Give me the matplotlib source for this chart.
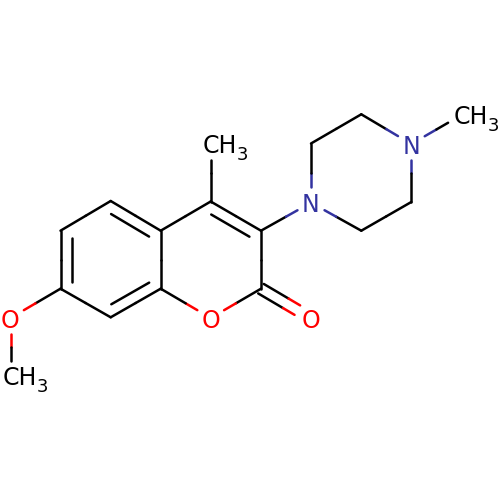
import numpy as np
import matplotlib
matplotlib.use('Agg')
import matplotlib.pyplot as plt

# Atoms, in picture pixels
elements = ['C', 'C', 'C', 'C', 'C', 'C', 'C', 'C', 'C', 'O', 'O', 'N', 'C', 'C', 'N', 'C', 'C', 'C', 'C', 'O', 'C']
atom_x = [110.7, 60.5, 60.5, 110.7, 160.7, 160.7, 210.7, 261, 261, 210.7, 310.7,
          311, 311, 361.3, 411.3, 411.3, 361.3, 461.5, 210.7, 10.5, 10.5]
atom_y = [201, 230.7, 288.7, 317.3, 288.7, 230.7, 201.5, 230.7, 288.7, 318, 318,
          202.7, 143.5, 114.3, 144, 202, 230.7, 115, 144, 318, 376]

single_bonds = [(0, 1), (0, 5), (1, 2), (2, 3), (3, 4), (4, 5), (5, 6), (6, 7), (7, 8), (8, 9), (9, 4),
                (7, 11), (11, 12), (12, 13), (13, 14), (14, 15), (15, 16), (16, 11),
                (14, 17), (6, 18), (2, 19), (19, 20)]
# inner lines of the ring double bonds: atom, atom, ring the line sits in
inner_bonds = [(0, 5, 'benzene'), (1, 2, 'benzene'), (3, 4, 'benzene'), (6, 7, 'pyrone')]
ring_atoms = {'benzene': [0, 1, 2, 3, 4, 5], 'pyrone': [4, 5, 6, 7, 8, 9]}
carbonyl = (8, 10)

methyl_atoms = [17, 18, 20]
colors = {'C': 'black', 'N': '#3333a0', 'O': '#ff0000'}
LW = 1.8
TRIM = 15.5
INNER_OFFSET = 11
INNER_SHORT = 7


def is_labelled(i):
    return elements[i] != 'C' or i in methyl_atoms


def draw_bond(ax, i, j, off=(0, 0)):
    p = np.array([atom_x[i], atom_y[i]]) + off
    q = np.array([atom_x[j], atom_y[j]]) + off
    d = (q - p) / np.hypot(*(q - p))
    mid = (p + q) / 2
    start = p + d * TRIM if is_labelled(i) else p
    end = q - d * TRIM if is_labelled(j) else q
    for a, b, el in [(start, mid, elements[i]), (mid, end, elements[j])]:
        ax.plot([a[0], b[0]], [a[1], b[1]], color=colors[el], lw=LW, solid_capstyle='round')


fig = plt.figure(figsize=(5, 5), dpi=100)
ax = fig.add_axes([0, 0, 1, 1])
ax.set_xlim(0, 500)
ax.set_ylim(500, 0)
ax.axis('off')

for i, j in single_bonds:
    draw_bond(ax, i, j)

# inner ring lines
for i, j, ring in inner_bonds:
    p = np.array([atom_x[i], atom_y[i]])
    q = np.array([atom_x[j], atom_y[j]])
    c = np.mean([[atom_x[k], atom_y[k]] for k in ring_atoms[ring]], axis=0)
    d = (q - p) / np.hypot(*(q - p))
    n = np.array([-d[1], d[0]])
    if np.dot(c - p, n) < 0:
        n = -n
    a = p + n * INNER_OFFSET + d * INNER_SHORT
    b = q + n * INNER_OFFSET - d * INNER_SHORT
    ax.plot([a[0], b[0]], [a[1], b[1]], color='black', lw=LW, solid_capstyle='round')

# C=O is drawn as two lines either side of the bond axis
i, j = carbonyl
d = np.array([atom_x[j] - atom_x[i], atom_y[j] - atom_y[i]])
d = d / np.hypot(*d)
n = np.array([-d[1], d[0]])
draw_bond(ax, i, j, n * 5.5)
draw_bond(ax, i, j, -n * 5.5)

# atom labels
for i, el in enumerate(elements):
    if el != 'C':
        ax.text(atom_x[i], atom_y[i], el, color=colors[el], fontsize=17,
                ha='center', va='center_baseline', family='DejaVu Sans')
for i in methyl_atoms:
    x = atom_x[i] - 7.7
    y = atom_y[i] + 9.2
    ax.text(x, y, 'CH', color='black', fontsize=17, ha='left', va='baseline', family='DejaVu Sans')
    ax.text(x + 33.5, y + 6.5, '3', color='black', fontsize=13, ha='left', va='baseline', family='DejaVu Sans')

fig.savefig('out.png', dpi=100, facecolor='white')
